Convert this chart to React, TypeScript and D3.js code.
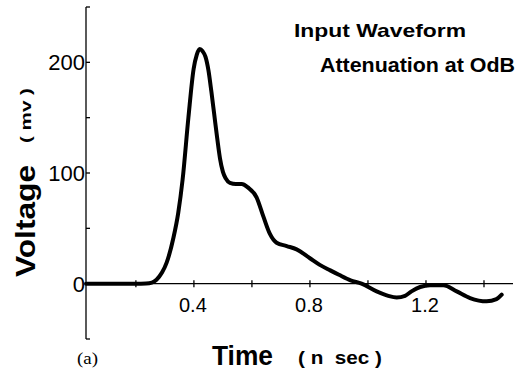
import React from "react";
import * as d3 from "d3";

const times = [0.028, 0.1, 0.2, 0.235, 0.255, 0.271, 0.29, 0.306, 0.329, 0.346, 0.361, 0.381, 0.399, 0.41, 0.42, 0.43, 0.44, 0.45, 0.46, 0.47, 0.48, 0.49, 0.5, 0.51, 0.524, 0.545, 0.565, 0.586, 0.616, 0.639, 0.662, 0.685, 0.72, 0.754, 0.8, 0.834, 0.87, 0.9, 0.94, 0.978, 1.03, 1.07, 1.099, 1.128, 1.15, 1.18, 1.214, 1.26, 1.306, 1.352, 1.409, 1.443, 1.461];
const voltages = [0, 0, 0, 0.2, 1, 3.6, 10, 19, 41, 64, 94, 150, 194, 207, 212, 210, 205, 193, 174, 153, 132, 113, 101, 95, 91, 90, 90, 87, 78, 61, 45, 37, 34, 31, 23, 17, 12, 8, 3, 0, -7, -11, -12.5, -11, -7, -3, -1.5, -1.5, -7, -13, -16, -14, -10];

const xTicks = [0.2, 0.4, 0.6, 0.8, 1.0, 1.2, 1.4];
const xTickLabels = ["0.4", "0.8", "1.2"];
const xLabelValues = [0.4, 0.8, 1.2];
const yTicks = [0, 50, 100, 150, 200];
const yLabelValues = [0, 100, 200];
const yTickLabels = ["0", "100", "200"];
const xDomain = [0.028, 1.5];
const yDomain = [-50, 250];

const W = 517;
const H = 374;

export default function App() {
  const x = d3.scaleLinear().domain(xDomain).range([86, 513]);
  const y = d3.scaleLinear().domain(yDomain).range([339, 7]);
  const pts = times.map((t, i) => [t, voltages[i]] as [number, number]);
  const line = d3
    .line<[number, number]>()
    .x((d) => x(d[0]))
    .y((d) => y(d[1]))
    .curve(d3.curveMonotoneX);
  const sans = "'Liberation Sans', Arial, sans-serif";
  const x0 = x(xDomain[0]);
  const y0 = y(0);
  return (
    <svg
      width={W}
      height={H}
      style={{ position: "absolute", left: 0, top: 0, background: "#fff" }}
    >
      <rect x={0} y={0} width={W} height={H} fill="#fff" />
      {/* Y axis */}
      <line x1={x0} x2={x0} y1={y(yDomain[0])} y2={y(yDomain[1])} stroke="#000" strokeWidth={1.3} />
      <line x1={x0} x2={x0 + 4} y1={y(yDomain[1])} y2={y(yDomain[1])} stroke="#000" strokeWidth={1.3} />
      <line x1={x0} x2={x0 + 4} y1={y(yDomain[0])} y2={y(yDomain[0])} stroke="#000" strokeWidth={1.3} />
      {yTicks.map((v) => (
        <line key={"yt" + v} x1={x0} x2={x0 + 4} y1={y(v)} y2={y(v)} stroke="#000" strokeWidth={1.3} />
      ))}
      {yLabelValues.map((v, i) => (
        <text
          key={"yl" + v}
          x={x0 - 1}
          y={y(v)}
          dy="0.36em"
          textAnchor="end"
          fontFamily={sans}
          fontSize={22}
          fill="#000"
        >
          {yTickLabels[i]}
        </text>
      ))}
      {/* X axis */}
      <line x1={x0} x2={x(xDomain[1])} y1={y0} y2={y0} stroke="#000" strokeWidth={1.3} />
      {xTicks.map((t) => (
        <line key={"xt" + t} x1={x(t)} x2={x(t)} y1={y0 - 3.5} y2={y0 + 3.5} stroke="#000" strokeWidth={1.3} />
      ))}
      {xLabelValues.map((t, i) => (
        <text
          key={"xl" + t}
          x={x(t) - 1}
          y={312}
          textAnchor="middle"
          fontFamily={sans}
          fontSize={20}
          fill="#000"
        >
          {xTickLabels[i]}
        </text>
      ))}
      {/* curve */}
      <path d={line(pts) || ""} fill="none" stroke="#000" strokeWidth={4} strokeLinejoin="round" strokeLinecap="round" />
      {/* titles */}
      <text x={294} y={37} fontFamily={sans} fontWeight="bold" fontSize={19} textLength={172} lengthAdjust="spacingAndGlyphs" fill="#000">
        Input Waveform
      </text>
      <text x={320} y={72} fontFamily={sans} fontWeight="bold" fontSize={20} textLength={195} lengthAdjust="spacingAndGlyphs" fill="#000">
        Attenuation at OdB
      </text>
      {/* axis titles */}
      <text x={212} y={365} fontFamily={sans} fontWeight="bold" fontSize={27} textLength={61} lengthAdjust="spacingAndGlyphs" fill="#000">
        Time
      </text>
      <text x={298} y={364} fontFamily={sans} fontWeight="bold" fontSize={18} textLength={84} lengthAdjust="spacingAndGlyphs" fill="#000" style={{ whiteSpace: "pre" }}>
        {"( n  sec )"}
      </text>
      <text x={77} y={364} fontFamily="'Liberation Serif', 'Times New Roman', serif" fontSize={17} textLength={21} lengthAdjust="spacingAndGlyphs" fill="#000">
        (a)
      </text>
      <text
        transform="translate(35,277) rotate(-90)"
        fontFamily={sans}
        fontWeight="bold"
        fontSize={27}
        textLength={112}
        lengthAdjust="spacingAndGlyphs"
        fill="#000"
      >
        Voltage
      </text>
      <text
        transform="translate(31,143) rotate(-90)"
        fontFamily={sans}
        fontWeight="bold"
        fontSize={15}
        textLength={55}
        lengthAdjust="spacingAndGlyphs"
        fill="#000"
        style={{ whiteSpace: "pre" }}
      >
        {"( mv )"}
      </text>
    </svg>
  );
}
